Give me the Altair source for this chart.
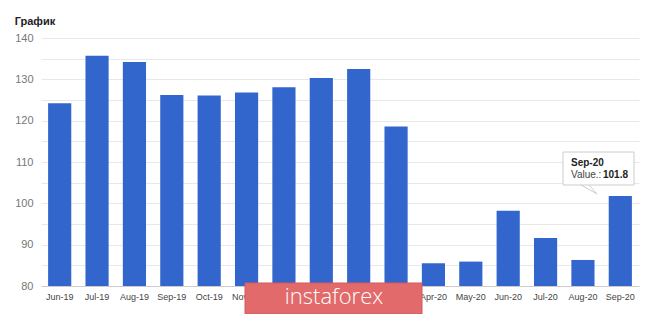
import altair as alt
import pandas as pd

months = ["Jun-19", "Jul-19", "Aug-19", "Sep-19", "Oct-19", "Nov-19", "Dec-19", "Jan-20",
          "Feb-20", "Mar-20", "Apr-20", "May-20", "Jun-20", "Jul-20", "Aug-20", "Sep-20"]
values = [124.2, 135.7, 134.2, 126.2, 126.1, 126.8, 128.1, 130.3,
          132.5, 118.6, 85.5, 85.9, 98.2, 91.6, 86.3, 101.8]
y_ticks = [80, 85, 90, 95, 100, 105, 110, 115, 120, 125, 130, 135, 140]
title_text = "График"
tip_month = "Sep-20"
tip_label = "Value.:"
tip_value = "101.8"
brand = "instaforex"

df = pd.DataFrame({"month": months, "value": values})
one = pd.DataFrame({"a": [0]})
FONT = "Liberation Sans"

bars = alt.Chart(df).mark_bar(color="#3366cc").encode(
    x=alt.X("month:N", sort=months, title=None,
            scale=alt.Scale(paddingInner=0.38, paddingOuter=0.19),
            axis=alt.Axis(labelAngle=0, labelFontSize=9, labelColor="#444", labelPadding=6,
                          ticks=False, domainColor="#cccccc", labelFont=FONT)),
    y=alt.Y("value:Q", title=None,
            scale=alt.Scale(domain=[80, 140], nice=False, zero=False),
            axis=alt.Axis(values=y_ticks, labelExpr="datum.value % 10 == 0 ? datum.label : ''",
                          labelFontSize=11, labelColor="#777", labelPadding=8, ticks=False,
                          domain=False, gridColor="#e8e8e8", labelFont=FONT)),
    y2=alt.datum(80),
)

tip_box = alt.Chart(one).mark_rect(fill="white", stroke="#cccccc", strokeWidth=1).encode(
    x=alt.value(522), x2=alt.value(593), y=alt.value(114), y2=alt.value(147))
tip_p1 = alt.Chart(one).mark_rule(color="#cccccc").encode(
    x=alt.value(540), x2=alt.value(556), y=alt.value(147), y2=alt.value(156))
tip_p2 = alt.Chart(one).mark_rule(color="#cccccc").encode(
    x=alt.value(548), x2=alt.value(556), y=alt.value(147), y2=alt.value(156))
tip_t1 = alt.Chart(one).mark_text(align="left", baseline="alphabetic", fontSize=10,
                                  fontWeight="bold", font=FONT, color="#222").encode(
    x=alt.value(530), y=alt.value(128), text=alt.value(tip_month))
tip_t2 = alt.Chart(one).mark_text(align="left", baseline="alphabetic", fontSize=10,
                                  font=FONT, color="#444").encode(
    x=alt.value(530), y=alt.value(139.5), text=alt.value(tip_label))
tip_t3 = alt.Chart(one).mark_text(align="left", baseline="alphabetic", fontSize=10,
                                  fontWeight="bold", font=FONT, color="#222").encode(
    x=alt.value(562), y=alt.value(139.5), text=alt.value(tip_value))

wm_box = alt.Chart(one).mark_rect(fill="#e36a6a", stroke="#d45a5a", strokeWidth=1).encode(
    x=alt.value(204), x2=alt.value(381), y=alt.value(245), y2=alt.value(276))
wm_text = alt.Chart(one).mark_text(align="center", baseline="middle", fontSize=22,
                                   font="Open Sans", fontWeight=300, color="white").encode(
    x=alt.value(293), y=alt.value(259), text=alt.value(brand))

chart = alt.layer(bars, tip_box, tip_p1, tip_p2, tip_t1, tip_t2, tip_t3, wm_box, wm_text).properties(
    width=598, height=248,
    title=alt.Title(title_text, anchor="start", fontSize=11, fontWeight="bold", color="#222",
                    offset=5, font=FONT),
    autosize=alt.AutoSizeParams(type="none"),
    padding={"left": 41, "top": 38, "right": 26, "bottom": 28},
    background="white",
).configure_view(stroke=None)

chart.save("out.html", embed_options={"renderer": "svg", "actions": False})
